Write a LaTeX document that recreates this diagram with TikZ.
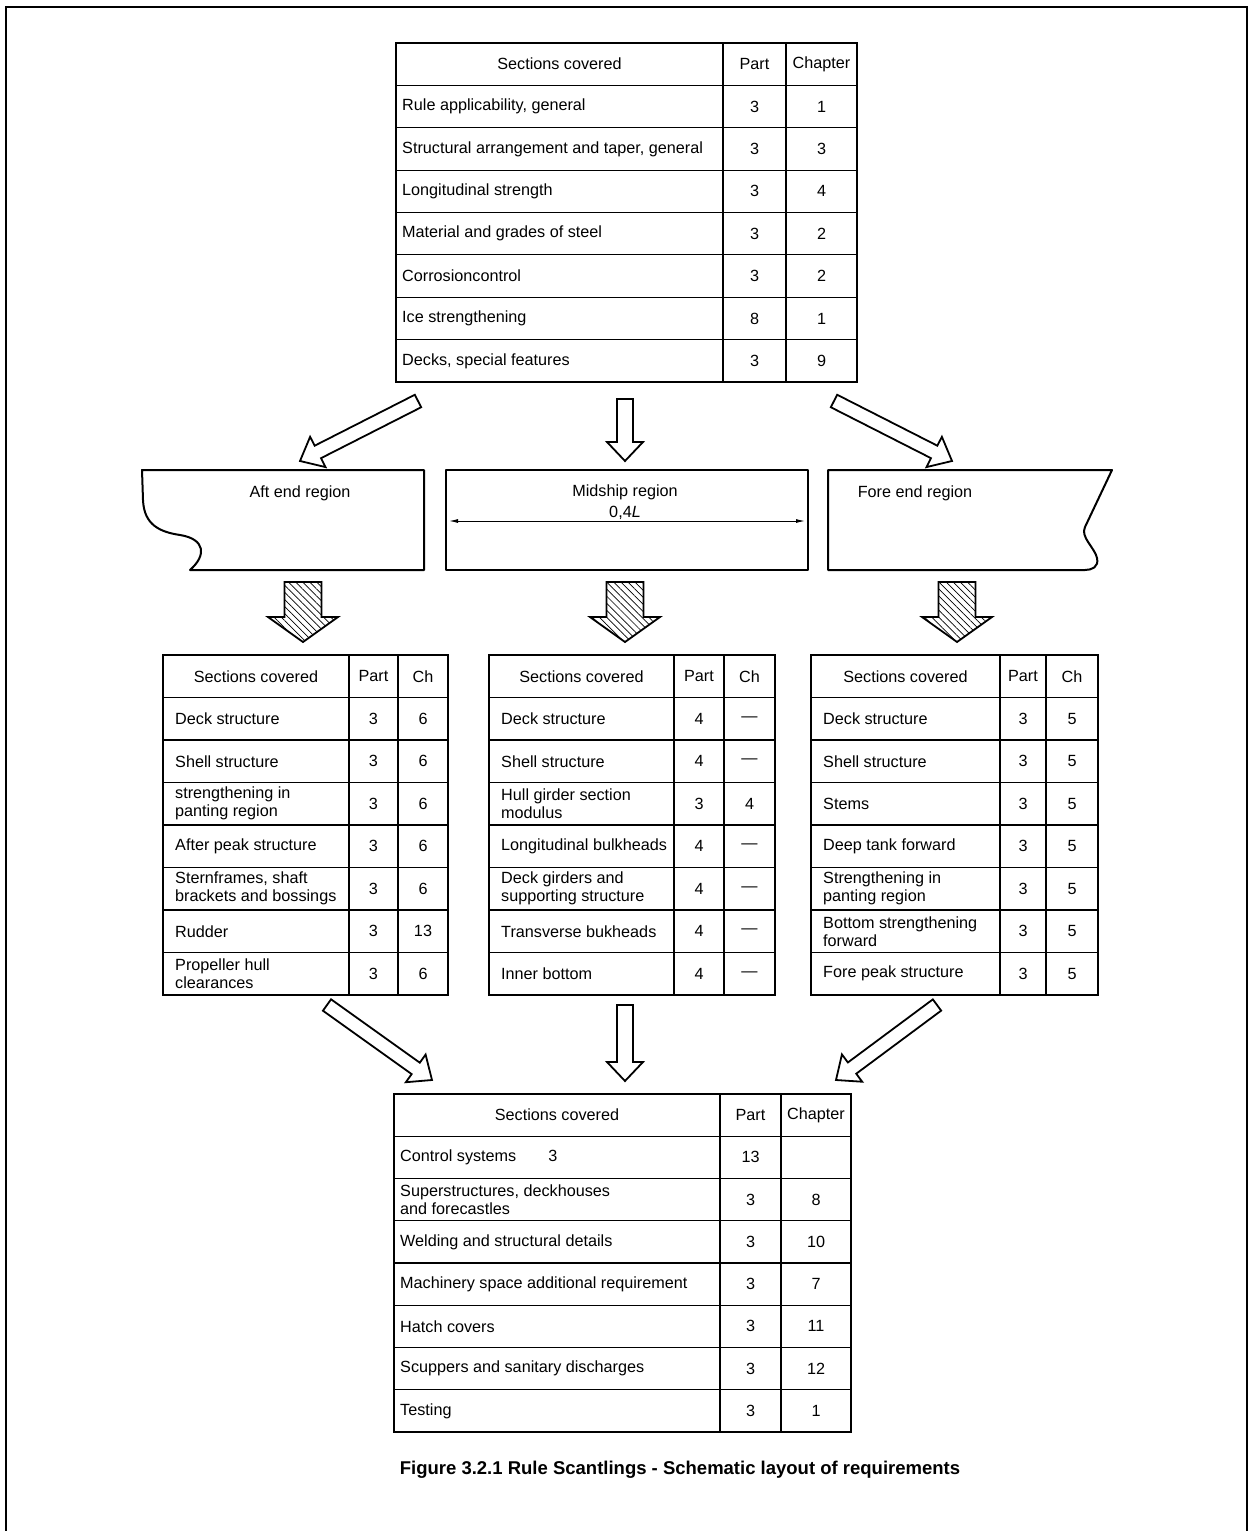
\documentclass[tikz,border=0pt]{standalone}
\usepackage{fontspec}
\setmainfont{Liberation Sans}
\usetikzlibrary{arrows.meta,calc,patterns.meta,positioning}

\tikzset{
  gridline/.style={line width=1.2pt},
  tblframe/.style={draw, line width=2.2pt, inner sep=0pt, outer sep=0pt},
  cell/.style={font=\fontsize{16.2}{18}\selectfont, inner sep=0pt, align=left},
  regionline/.style={line width=2pt, line join=round},
  regiontext/.style={font=\fontsize{16.2}{18}\selectfont, inner sep=0pt, align=center},
  hollowarrow/.style={draw, line width=1.8pt, fill=white, line join=miter},
  hatcharrow/.style={draw, line width=1.8pt, line join=miter,
                     pattern={Lines[angle=-45,distance=5pt,line width=0.7pt]}},
  dimline/.style={line width=1pt, {Latex[length=9pt,width=4pt]}-{Latex[length=9pt,width=4pt]}},
  figcaption/.style={font=\bfseries\fontsize{18.5}{21}\selectfont, inner sep=0pt}
}

% left padding of the text in the first column
\newcommand{\cellpad}{6}

% name, left, top, part col, chapter col, right, bottom, chapter head, rows
\newcommand{\sectable}[9]{%
  \pgfmathsetmacro{\rh}{(#7-#3)/8}
  \foreach \k in {1,...,7}
    \draw[gridline] (#2,{#3+\k*\rh}) -- (#6,{#3+\k*\rh});
  \draw[gridline] (#4,#3) -- (#4,#7);
  \draw[gridline] (#5,#3) -- (#5,#7);
  \node[tblframe, anchor=north west, minimum width={(#6-#2)*1pt},
        minimum height={(#7-#3)*1pt}] (#1) at (#2,#3) {};
  \node[cell] (#1-head) at ({(#2+#4)/2},{#3+\rh/2}) {Sections covered};
  \node[cell] (#1-part) at ({(#4+#5)/2},{#3+\rh/2}) {Part};
  \node[cell] (#1-chap) at ({(#5+#6)/2},{#3+\rh/2}) {#8};
  \foreach \txt/\p/\c [count=\i] in {#9} {
    \node[cell, anchor=west] (#1-s\i) at ({#2+\cellpad},{#3+(\i+0.5)*\rh}) {\txt};
    \node[cell] (#1-p\i) at ({(#4+#5)/2},{#3+(\i+0.5)*\rh}) {\p};
    \node[cell] (#1-c\i) at ({(#5+#6)/2},{#3+(\i+0.5)*\rh}) {\c};
  }
}

% block arrow: start, end, shaft half width, head half width, head length
\newcommand{\blockarrow}[6][]{%
  \coordinate (bah) at ($(#3)!#6!(#2)$);
  \draw[#1] ($(#2)!#4!90:(#3)$) -- ($(bah)!#4!90:(#3)$) -- ($(bah)!#5!90:(#3)$)
    -- (#3) -- ($(bah)!#5!-90:(#3)$) -- ($(bah)!#4!-90:(#3)$)
    -- ($(#2)!#4!-90:(#3)$) -- cycle;
}

\begin{document}
\begin{tikzpicture}[x=1pt, y=-1pt]
  \useasboundingbox (0,0) rectangle (1250,1531);
  \draw[line width=2.2pt] (6,1531) -- (6,7) -- (1247,7) -- (1247,1531);

  % general requirements
  \sectable{top}{396}{43}{723}{786}{857}{382}{Chapter}{%
    {Rule applicability, general}/3/1,
    {Structural arrangement and taper, general}/3/3,
    {Longitudinal strength}/3/4,
    {Material and grades of steel}/3/2,
    {Corrosioncontrol}/3/2,
    {Ice strengthening}/8/1,
    {Decks, special features}/3/9}

  % the three regions
  \draw[regionline] (424,470) -- (142,470) -- (143,500)
    .. controls (144,525) and (160,532) .. (180,535)
    .. controls (205,539) and (207,555) .. (190,570) -- (424,570) -- cycle;
  \node[regiontext] (aft) at (300,493) {Aft end region};

  \draw[regionline] (446,470) rectangle (808,570);
  \node[regiontext] (mid) at (625,492) {Midship region};
  \node[regiontext] (len) at (625,513) {0,4\textit{L}};
  \coordinate (dimL) at (449,521);
  \coordinate (dimR) at (805,521);
  \draw[dimline] (dimL) -- (dimR);

  \draw[regionline] (828,470) -- (1112,470) -- (1085,527)
    .. controls (1080,537) and (1095,548) .. (1097,558)
    .. controls (1099,567) and (1092,570) .. (1085,570) -- (828,570) -- cycle;
  \node[regiontext] (fore) at (915,493) {Fore end region};

  % arrows from the general table to the regions
  \coordinate (tl-s) at (418,401);  \coordinate (tl-e) at (300,461);
  \coordinate (tm-s) at (625,399);  \coordinate (tm-e) at (625,461);
  \coordinate (tr-s) at (834,401);  \coordinate (tr-e) at (952,461);
  \blockarrow[hollowarrow]{tl-s}{tl-e}{7pt}{17pt}{20pt}
  \blockarrow[hollowarrow]{tm-s}{tm-e}{8pt}{18pt}{19pt}
  \blockarrow[hollowarrow]{tr-s}{tr-e}{7pt}{17pt}{20pt}

  % hatched arrows down to the region tables
  \coordinate (ha-s) at (303,582);  \coordinate (ha-e) at (303,642);
  \coordinate (hm-s) at (625,582);  \coordinate (hm-e) at (625,642);
  \coordinate (hf-s) at (957,582);  \coordinate (hf-e) at (957,642);
  \blockarrow[hatcharrow]{ha-s}{ha-e}{18.5pt}{35pt}{25pt}
  \blockarrow[hatcharrow]{hm-s}{hm-e}{18.5pt}{35pt}{25pt}
  \blockarrow[hatcharrow]{hf-s}{hf-e}{18.5pt}{35pt}{25pt}

  % region tables
  \renewcommand{\cellpad}{12}
  \sectable{aftt}{163}{655}{349}{398}{448}{995}{Ch}{%
    {Deck structure}/3/6,
    {Shell structure}/3/6,
    {strengthening in\\panting region}/3/6,
    {After peak structure}/3/6,
    {Sternframes, shaft\\brackets and bossings}/3/6,
    {Rudder}/3/13,
    {Propeller hull\\clearances}/3/6}
  \sectable{midt}{489}{655}{674}{724}{775}{995}{Ch}{%
    {Deck structure}/4/—,
    {Shell structure}/4/—,
    {Hull girder section\\modulus}/3/4,
    {Longitudinal bulkheads}/4/—,
    {Deck girders and\\supporting structure}/4/—,
    {Transverse bukheads}/4/—,
    {Inner bottom}/4/—}
  \sectable{foret}{811}{655}{1000}{1046}{1098}{995}{Ch}{%
    {Deck structure}/3/5,
    {Shell structure}/3/5,
    {Stems}/3/5,
    {Deep tank forward}/3/5,
    {Strengthening in\\panting region}/3/5,
    {Bottom strengthening\\forward}/3/5,
    {Fore peak structure}/3/5}

  % arrows down to the final table
  \coordinate (bl-s) at (327,1005);  \coordinate (bl-e) at (432,1080);
  \coordinate (bm-s) at (625,1005);  \coordinate (bm-e) at (625,1081);
  \coordinate (br-s) at (937,1005);  \coordinate (br-e) at (836,1080);
  \blockarrow[hollowarrow]{bl-s}{bl-e}{7pt}{17pt}{20pt}
  \blockarrow[hollowarrow]{bm-s}{bm-e}{8pt}{18pt}{19pt}
  \blockarrow[hollowarrow]{br-s}{br-e}{7pt}{17pt}{20pt}

  \renewcommand{\cellpad}{6}
  \sectable{bot}{394}{1094}{720}{781}{851}{1432}{Chapter}{%
    {Control systems\hspace{32pt}3}/13/{},
    {Superstructures, deckhouses\\and forecastles}/3/8,
    {Welding and structural details}/3/10,
    {Machinery space additional requirement}/3/7,
    {Hatch covers}/3/11,
    {Scuppers and sanitary discharges}/3/12,
    {Testing}/3/1}

  \node[figcaption] (fig) at (680,1470)
    {Figure 3.2.1 Rule Scantlings - Schematic layout of requirements};
\end{tikzpicture}
\end{document}
